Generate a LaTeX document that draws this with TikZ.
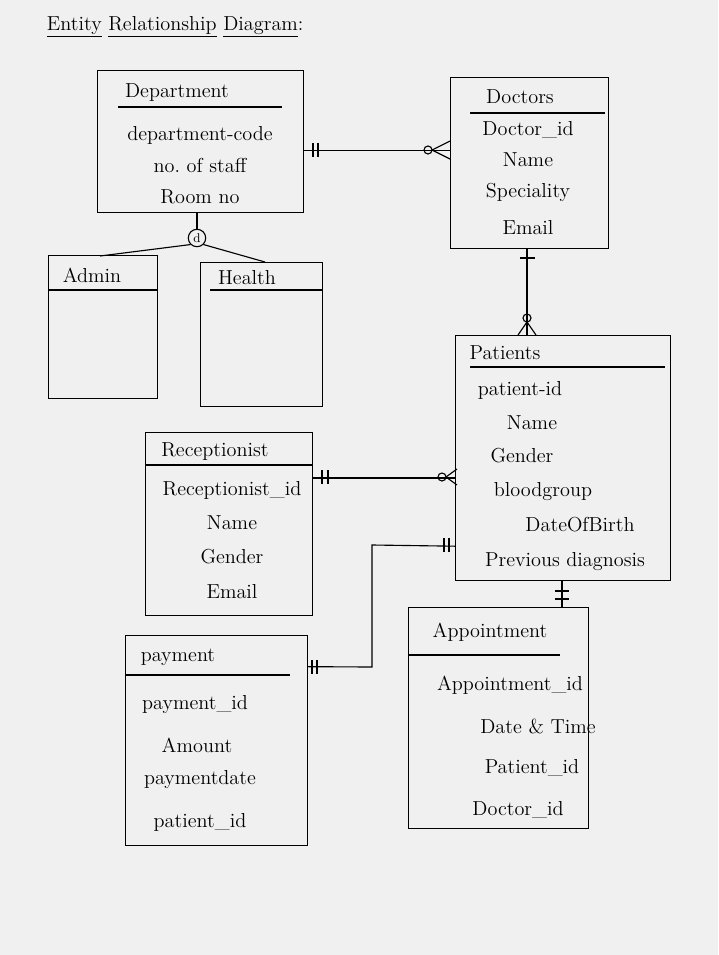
\documentclass[tikz,border=0pt]{standalone}
\usetikzlibrary{calc,positioning}
\tikzset{
  ent/.style={rectangle, draw=black, thick, anchor=north west, inner sep=0pt},
  head/.style={font=\Large},
  attr/.style={font=\Large},
  rel/.style={thick},
  tick/.style={thick}
}
\begin{document}
\begin{tikzpicture}[x=0.025cm, y=-0.025cm]
  \useasboundingbox[fill=white!94!black] (0,0) rectangle (718,955);
  \node[anchor=west, font=\Large] (title) at (42,27) {\underline{Entity} \underline{Relationship} \underline{Diagram}:};

  % entities
  \node[ent, minimum width=5.15cm, minimum height=3.55cm] (dept) at (97,70) {};
  \node[ent, minimum width=3.95cm, minimum height=4.275cm] (doc) at (450,77) {};
  \node[ent, minimum width=2.725cm, minimum height=3.575cm] (admin) at (48,255) {};
  \node[ent, minimum width=3.05cm, minimum height=3.6cm] (health) at (200,262) {};
  \node[ent, minimum width=5.375cm, minimum height=6.125cm] (pat) at (455,335) {};
  \node[ent, minimum width=4.175cm, minimum height=4.575cm] (recep) at (145,432) {};
  \node[ent, minimum width=4.5cm, minimum height=5.525cm] (appt) at (408,607) {};
  \node[ent, minimum width=4.55cm, minimum height=5.25cm] (pay) at (125,635) {};

  % headers
  \node[head] (depth) at (177,93) {Department};
  \draw[thick] (118,107) -- (282,107);
  \node[head] (doch) at (520,97) {Doctors};
  \draw[thick] (470,113) -- (605,113);
  \node[head] (adminh) at (92,275) {Admin};
  \draw[thick] (48,290) -- (157,290);
  \node[head] (healthh) at (247,278) {Health};
  \draw[thick] (210,290) -- (322,290);
  \node[head] (path) at (505,353) {Patients};
  \draw[thick] (470,367) -- (665,367);
  \node[head] (receph) at (215,452) {Receptionist};
  \draw[thick] (145,465) -- (312,465);
  \node[head] (appth) at (490,632) {Appointment};
  \draw[thick] (408,655) -- (560,655);
  \node[head] (payh) at (178,657) {payment};
  \draw[thick] (125,675) -- (290,675);

  % attributes
  \foreach \t/\y in {department-code/135, no.\ of staff/165, Room no/197}
    \node[attr] at (200,\y) {\t};
  \foreach \t/\y in {Doctor\_id/130, Name/160, Speciality/192, Email/228}
    \node[attr] at (528,\y) {\t};
  \foreach \t/\x/\y in {patient-id/520/390, Name/532/423, Gender/522/456, bloodgroup/543/492, DateOfBirth/580/525, Previous diagnosis/565/562}
    \node[attr] at (\x,\y) {\t};
  \foreach \t/\y in {Receptionist\_id/490, Name/523, Gender/557, Email/592}
    \node[attr] at (232,\y) {\t};
  \foreach \t/\x/\y in {Appointment\_id/510/685, Date \& Time/538/726, Patient\_id/532/768, Doctor\_id/518/810}
    \node[attr] at (\x,\y) {\t};
  \foreach \t/\x/\y in {payment\_id/195/705, Amount/197/745, paymentdate/200/780, patient\_id/200/822}
    \node[attr] at (\x,\y) {\t};

  % relationships
  \coordinate (deptr) at ($(dept.north east)!0.56!(dept.south east)$);
  \draw[rel] (deptr) -- (deptr -| doc.west);
  \draw[tick] (313,143) -- (313,157) (318,143) -- (318,157);
  \draw[tick] (428,150) circle (4) (432,150) -- (450,141) (432,150) -- (450,159);

  \draw[rel] (doc.south -| 527,0) -- (pat.north -| 527,0);
  \draw[tick] (520,258) -- (535,258);
  \draw[tick] (527,318) circle (4) (527,322) -- (518,335) (527,322) -- (536,335);

  \coordinate (recepr) at ($(recep.north east)!0.25!(recep.south east)$);
  \draw[rel] (recepr) -- (recepr -| pat.west);
  \draw[tick] (322,470) -- (322,484) (328,470) -- (328,484);
  \draw[tick] (442,477) circle (4) (446,477) -- (457,469) (446,477) -- (457,485);

  \coordinate (payr) at ($(pay.north east)!0.15!(pay.south east)$);
  \coordinate (patl) at ($(pat.south west)+(0,-35)$);
  \draw[rel] (payr) -- (372,667) -- (372,545) -- (patl);
  \draw[tick] (312,660) -- (312,674) (317,660) -- (317,674);
  \draw[tick] (444,538) -- (444,552) (449,538) -- (449,552);

  \draw[rel] (pat.south -| 562,0) -- (appt.north -| 562,0);
  \draw[tick] (555,591) -- (569,591) (555,599) -- (569,599);

  % specialisation
  \node[circle, draw, thick, inner sep=1.5pt, font=\small] (isa) at (197,238) {d};
  \draw[rel] (dept.south -| isa) -- (isa.north);
  \draw[rel] (isa.south west) -- (100,256);
  \draw[rel] (isa.south east) -- (265,262);
\end{tikzpicture}
\end{document}
